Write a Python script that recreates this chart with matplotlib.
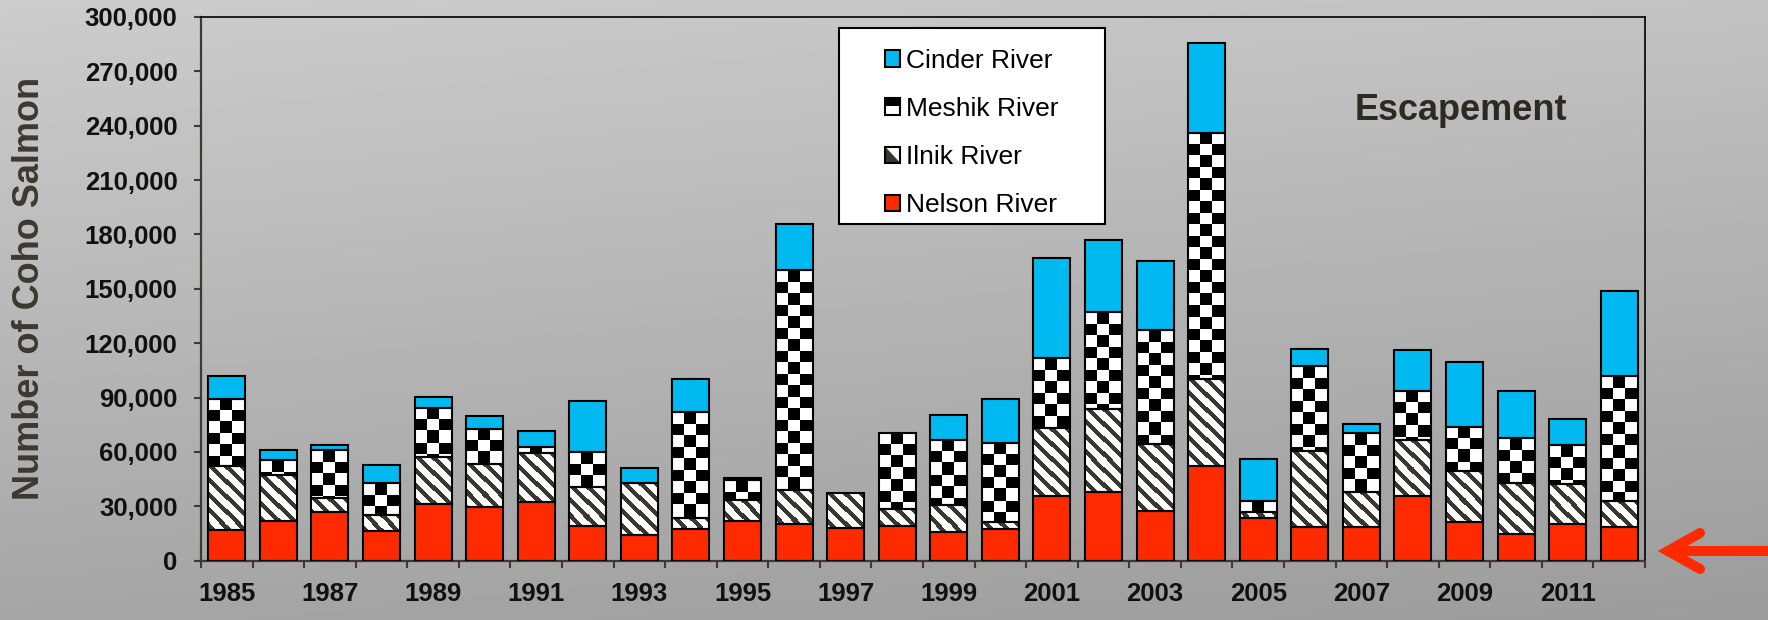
import numpy as np
import matplotlib
matplotlib.use("Agg")
import matplotlib.pyplot as plt
from matplotlib.patches import Rectangle, Polygon, Patch
from matplotlib.lines import Line2D
from matplotlib.legend_handler import HandlerBase
from matplotlib.colors import ListedColormap
from matplotlib.ticker import FuncFormatter

plt.rcParams['font.family'] = ['Liberation Sans', 'DejaVu Sans']

years = list(range(1985, 2013))
nelson = [17000, 22100, 27100, 16400, 31300, 29500, 32400, 19200, 14000, 17500,
          21900, 20100, 17900, 19300, 15700, 17500, 35900, 37800, 27600, 52300,
          23800, 18500, 18500, 35800, 21500, 14600, 20300, 18500]
ilnik = [35000, 25300, 7700, 8900, 25800, 23900, 26900, 21700, 29100, 6300,
         11600, 19000, 19300, 9100, 15100, 3700, 37300, 45900, 36900, 47900,
         2900, 42300, 19600, 30900, 28200, 28500, 22100, 14700]
meshik = [37200, 8200, 26400, 17500, 27100, 19500, 3700, 19300, 0, 58200,
          11100, 121100, 0, 42000, 35900, 43700, 38600, 53500, 62600, 135900,
          6500, 46900, 32300, 27200, 24300, 24500, 21500, 68500]
cinder = [12500, 5600, 2700, 10100, 6400, 7100, 8300, 27900, 8300, 18200,
          1300, 25800, 0, 0, 13600, 24100, 55300, 40000, 38100, 49400,
          22800, 9100, 5000, 22500, 35400, 25800, 14200, 46900]
rivers = ['Cinder River', 'Meshik River', 'Ilnik River', 'Nelson River']

RED = '#ff2a00'
BLUE = '#00b9f0'
STRIPE = '#3b372e'

W, H = 1768, 620
fig = plt.figure(figsize=(W / 100, H / 100), dpi=100)

# gray gradient background
bg = fig.add_axes([0, 0, 1, 1])
gy, gx = np.mgrid[0:1:200j, 0:1:200j]
grad = 0.80 - 0.15 * gy - 0.04 * gx
bg.imshow(grad, cmap='gray', vmin=0, vmax=1, aspect='auto', extent=(0, 1, 0, 1))
bg.axis('off')

left, right, top, bottom = 201, 1645, 17, 560.7
ax = fig.add_axes([left / W, (H - bottom) / H, (right - left) / W, (bottom - top) / H])
ax.set_facecolor('none')

x = np.arange(len(years))
width = 0.72
nelson = np.array(nelson)
ilnik = np.array(ilnik)
meshik = np.array(meshik)
cinder = np.array(cinder)
b2 = nelson + ilnik
b3 = b2 + meshik

ax.bar(x, nelson, width, color=RED, edgecolor='none', zorder=2)
ibars = ax.bar(x, ilnik, width, bottom=nelson, color='white', edgecolor='none', zorder=2)
mbars = ax.bar(x, meshik, width, bottom=b2, color='white', edgecolor='none', zorder=2)
ax.bar(x, cinder, width, bottom=b3, color=BLUE, edgecolor='none', zorder=2)

# pixel scale of the axes, used to size the fill patterns
px_x = (right - left) / len(years)
px_y = (bottom - top) / 300000
bar_px = int(round(width * px_x))


def pattern_fill(patch, x0, y_top, height, kind):
    nrow = int(np.ceil(height * px_y)) + 1
    rows, cols = np.mgrid[0:nrow, 0:bar_px]
    if kind == 'checker':
        img = ((rows // 11.5).astype(int) + (cols // 11.5).astype(int)) % 2
        cmap = ListedColormap(['white', 'black'])
    else:
        img = ((cols - rows) % 15 < 6).astype(int)
        cmap = ListedColormap(['white', STRIPE])
    im = ax.imshow(img, cmap=cmap, vmin=0, vmax=1, interpolation='nearest',
                   aspect='auto', origin='upper', zorder=2.5,
                   extent=(x0, x0 + width, y_top - nrow / px_y, y_top))
    im.set_clip_path(patch)


for i in range(len(years)):
    x0 = x[i] - width / 2
    if ilnik[i] > 0:
        pattern_fill(ibars[i], x0, b2[i], ilnik[i], 'stripe')
    if meshik[i] > 0:
        pattern_fill(mbars[i], x0, b3[i], meshik[i], 'checker')

# black outlines on every segment
for vals, base in [(nelson, 0), (ilnik, nelson), (meshik, b2), (cinder, b3)]:
    h = np.where(vals > 0, vals, np.nan)
    ax.bar(x, h, width, bottom=base, fill=False, edgecolor='black', linewidth=1.5, zorder=3)

ax.set_xlim(-0.5, len(years) - 0.5)
ax.set_ylim(0, 300000)

for s in ['left', 'bottom']:
    ax.spines[s].set_color('#3b3a33')
    ax.spines[s].set_linewidth(1.6)
for s in ['top', 'right']:
    ax.spines[s].set_color('black')
    ax.spines[s].set_linewidth(1.2)

ax.set_yticks(np.arange(0, 300001, 30000))
ax.yaxis.set_major_formatter(FuncFormatter(lambda v, p: f"{int(v):,}"))
ax.tick_params(axis='y', direction='out', length=5, width=1.5, color='#3b3a33',
               pad=12, labelsize=18.5, labelcolor='#111111')
ax.set_xticks(x[::2])
ax.set_xticklabels([str(y) for y in years[::2]])
ax.set_xticks(np.arange(-0.5, len(years), 1), minor=True)
ax.tick_params(axis='x', which='major', length=0, pad=15, labelsize=18.5,
               labelcolor='#111111')
ax.tick_params(axis='x', which='minor', direction='out', length=5, width=1.5,
               color='#3b3a33')
plt.setp(ax.get_xticklabels() + ax.get_yticklabels(), fontweight='bold')

fig.text(30 / W, 1 - 288 / H, 'Number of Coho Salmon', rotation=90, ha='center',
         va='center', fontsize=26, fontweight='bold', color='#3d3931')
fig.text(1461 / W, 1 - 110 / H, 'Escapement', ha='center', va='center',
         fontsize=26, fontweight='bold', color='#2e2a22')


# legend with Excel-like pattern swatches
class SwatchHandler(HandlerBase):
    def __init__(self, kind):
        super().__init__()
        self.kind = kind

    def create_artists(self, legend, orig_handle, xdescent, ydescent, width, height,
                       fontsize, trans):
        x0, y0 = -xdescent, -ydescent
        arts = []
        if self.kind == 'solid':
            arts.append(Rectangle((x0, y0), width, height,
                                  facecolor=orig_handle.get_facecolor(),
                                  edgecolor='none'))
        elif self.kind == 'checker':
            arts.append(Rectangle((x0, y0), width, height, facecolor='white',
                                  edgecolor='none'))
            arts.append(Rectangle((x0, y0 + height * 0.55), width, height * 0.45,
                                  facecolor='black', edgecolor='none'))
        else:
            arts.append(Rectangle((x0, y0), width, height, facecolor='white',
                                  edgecolor='none'))
            arts.append(Polygon([(x0, y0), (x0 + width, y0), (x0, y0 + height)],
                                closed=True, facecolor=STRIPE, edgecolor='none'))
        arts.append(Rectangle((x0, y0), width, height, fill=False,
                              edgecolor='black', linewidth=1.5))
        for a in arts:
            a.set_transform(trans)
        return arts


box = Rectangle((839 / W, 1 - 224 / H), (1105 - 839) / W, (224 - 28) / H,
                transform=fig.transFigure, facecolor='white', edgecolor='black',
                linewidth=1.5, zorder=3)
fig.add_artist(box)

handles = [Patch(facecolor=BLUE), Patch(facecolor='white'),
           Patch(facecolor='white'), Patch(facecolor=RED)]
kinds = ['solid', 'checker', 'stripe', 'solid']
leg = fig.legend(handles, rivers, loc='upper left',
                 bbox_to_anchor=(885 / W, 1 - 49 / H), frameon=False,
                 fontsize=19, borderpad=0, borderaxespad=0, labelspacing=0.91,
                 handlelength=0.58, handleheight=0.58, handletextpad=0.2,
                 handler_map={h: SwatchHandler(k) for h, k in zip(handles, kinds)})
leg.set_zorder(4)

# red arrow pointing at the axis on the right
arrow_kw = dict(color=RED, linewidth=7.2, solid_capstyle='round',
                solid_joinstyle='miter', transform=None)
tip = (1668, 551)
fig.add_artist(Line2D([1700, tip[0], 1700], [H - 533, H - tip[1], H - 569], **arrow_kw))
fig.add_artist(Line2D([tip[0], W + 20], [H - tip[1], H - tip[1]], **arrow_kw))

fig.savefig('out.png', dpi=100)
